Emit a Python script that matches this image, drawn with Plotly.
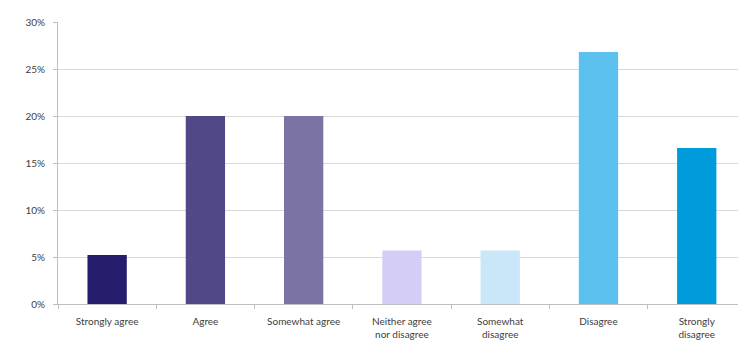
import plotly.graph_objects as go

categories = ["Strongly agree", "Agree", "Somewhat agree", "Neither agree<br>nor disagree",
              "Somewhat<br>disagree", "Disagree", "Strongly<br>disagree"]
values = [0.052, 0.200, 0.200, 0.057, 0.057, 0.268, 0.166]
colors = ["#251d6b", "#514887", "#7a73a3", "#d4cdf6", "#c9e7f8", "#5cc1ef", "#009bda"]

fig = go.Figure(go.Bar(x=categories, y=values, marker=dict(color=colors, line=dict(width=0))))

font_family = "Lato, Open Sans, sans-serif"
fig.update_layout(
    width=738, height=345,
    margin=dict(l=58, r=0, t=22, b=41),
    plot_bgcolor="white", paper_bgcolor="white",
    bargap=0.6,
    showlegend=False,
    font=dict(family=font_family, size=10, color="#595959"),
)
fig.update_xaxes(
    range=[-0.5, 6.42],
    showline=True, linecolor="#bfbfbf", linewidth=1,
    ticks="outside", tickson="boundaries", ticklen=4, tickcolor="#bfbfbf",
    tickfont=dict(size=10, color="#404040"),
    ticklabelstandoff=8,
    showgrid=False,
)
fig.update_yaxes(
    range=[0, 0.30], dtick=0.05, tickformat=".0%",
    showline=True, linecolor="#bfbfbf", linewidth=1,
    ticks="outside", ticklen=4, tickcolor="#bfbfbf",
    ticklabelstandoff=6,
    showgrid=True, gridcolor="#d9d9d9", gridwidth=1,
    tickfont=dict(size=10, color="#404040"),
    zeroline=False,
)

fig.write_html("out.html")
